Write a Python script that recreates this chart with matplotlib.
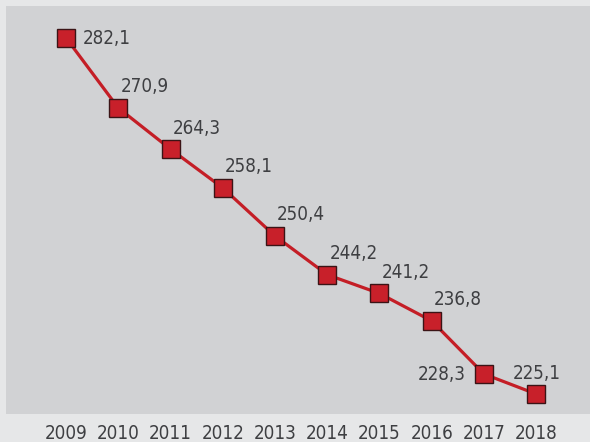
import matplotlib
matplotlib.use("Agg")
import matplotlib.pyplot as plt

years = [2009, 2010, 2011, 2012, 2013, 2014, 2015, 2016, 2017, 2018]
values = [282.1, 270.9, 264.3, 258.1, 250.4, 244.2, 241.2, 236.8, 228.3, 225.1]
labels = ["282,1", "270,9", "264,3", "258,1", "250,4", "244,2", "241,2", "236,8", "228,3", "225,1"]

# where each value label sits relative to its marker (pixels)
label_pos = ["right", "up", "up", "up", "up", "up", "up", "up", "left", "above"]

plt.rcParams['font.family'] = ['DejaVu Sans']
plt.rcParams['font.stretch'] = 'condensed'

fig = plt.figure(figsize=(5.9, 4.42), dpi=100, facecolor="#e6e7e8")
ax = fig.add_axes([6 / 590, 28 / 442, 584 / 590, 408 / 442])
ax.set_facecolor("#d1d2d4")

ax.plot(years, values, color="#c41e26", lw=2.3, zorder=2)
ax.plot(years, values, ls="none", marker="s", ms=12.5, mfc="#c8202a",
        mec="#3b1416", mew=1.0, zorder=3)

txt_color = "#3e3f42"
for x, v, lab, pos in zip(years, values, labels, label_pos):
    if pos == "right":
        off, ha, va = (17, -1), "left", "center"
    elif pos == "up":
        off, ha, va = (2, 21), "left", "center"
    elif pos == "left":
        off, ha, va = (-18, 0), "right", "center"
    else:
        off, ha, va = (1, 21), "center", "center"
    ax.annotate(lab, (x, v), xytext=off, textcoords="offset pixels",
                ha=ha, va=va, fontsize=13.5, color=txt_color, fontstretch="condensed")

ax.set_xlim(2007.85, 2019.03)
ax.set_ylim(221.9, 287.22)
ax.set_xticks(years)
ax.set_xticklabels([str(y) for y in years], fontsize=13.5, color=txt_color,
                   fontstretch="condensed")
ax.set_yticks([])
ax.tick_params(axis="x", length=0, pad=7)
for s in ax.spines.values():
    s.set_visible(False)

fig.savefig("out.png", dpi=100, facecolor=fig.get_facecolor())
